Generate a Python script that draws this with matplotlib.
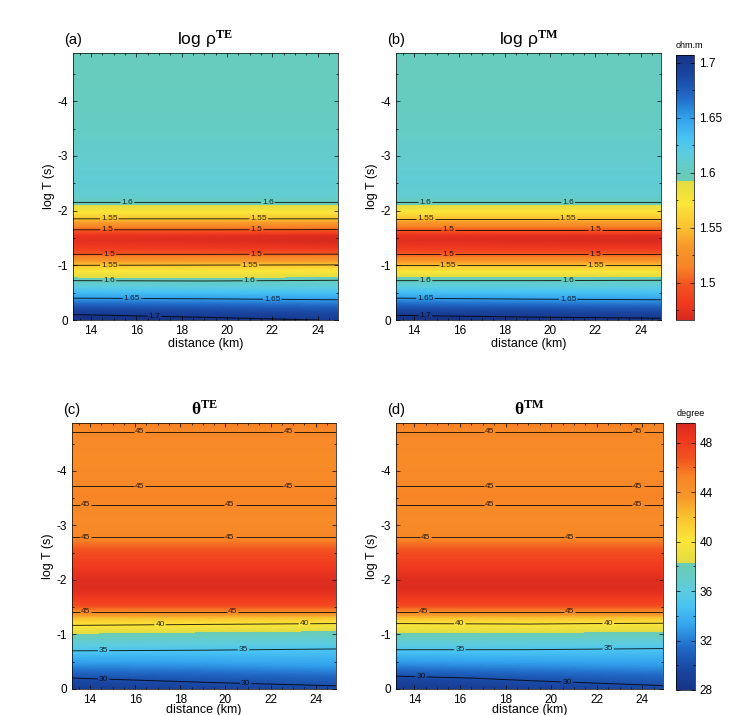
import numpy as np
import matplotlib
matplotlib.use("Agg")
import matplotlib.pyplot as plt
from matplotlib.colors import LinearSegmentedColormap, Normalize
from matplotlib.cm import ScalarMappable
from matplotlib.ticker import MultipleLocator

plt.rcParams['font.family'] = ['Liberation Sans', 'DejaVu Sans']
plt.rcParams['axes.unicode_minus'] = False
plt.rcParams['mathtext.fontset'] = 'custom'
plt.rcParams['mathtext.rm'] = 'Liberation Serif:bold'
plt.rcParams['mathtext.it'] = 'Liberation Sans'
plt.rcParams['mathtext.bf'] = 'Liberation Serif:bold'

# ---- data ----
dist = [13.2, 19.0, 24.9]          # km, columns of the grid

# apparent resistivity, log10(ohm.m)
logT_rho = [0.0, -0.1, -0.2, -0.3, -0.4, -0.55, -0.72, -0.85, -1.0, -1.1, -1.2, -1.3, -1.45,
            -1.55, -1.65, -1.75, -1.85, -2.0, -2.15, -2.3, -2.6, -3.0, -3.5, -4.0, -4.5, -4.9]
rho_te_left = [1.716, 1.700, 1.686, 1.668, 1.650, 1.627, 1.600, 1.580, 1.550, 1.526, 1.500, 1.483, 1.473,
               1.476, 1.500, 1.524, 1.550, 1.575, 1.600, 1.610, 1.612, 1.608, 1.604, 1.602, 1.601, 1.601]
rho_te_mid = [1.706, 1.694, 1.682, 1.665, 1.648, 1.625, 1.599, 1.579, 1.551, 1.526, 1.500, 1.481, 1.470,
              1.473, 1.500, 1.524, 1.550, 1.575, 1.600, 1.610, 1.612, 1.608, 1.604, 1.602, 1.601, 1.601]
rho_te_right = [1.699, 1.690, 1.678, 1.662, 1.645, 1.623, 1.601, 1.580, 1.552, 1.527, 1.501, 1.479, 1.466,
                1.469, 1.499, 1.524, 1.550, 1.575, 1.600, 1.610, 1.612, 1.608, 1.604, 1.602, 1.601, 1.601]
rho_tm_left = [1.712, 1.698, 1.684, 1.667, 1.650, 1.626, 1.600, 1.580, 1.550, 1.526, 1.500, 1.482, 1.472,
               1.475, 1.500, 1.524, 1.550, 1.575, 1.600, 1.610, 1.612, 1.608, 1.604, 1.602, 1.601, 1.601]
rho_tm_mid = [1.706, 1.695, 1.682, 1.664, 1.647, 1.625, 1.600, 1.580, 1.550, 1.526, 1.500, 1.481, 1.469,
              1.472, 1.500, 1.524, 1.550, 1.575, 1.600, 1.610, 1.612, 1.608, 1.604, 1.602, 1.601, 1.601]
rho_tm_right = [1.704, 1.692, 1.679, 1.662, 1.645, 1.624, 1.601, 1.580, 1.550, 1.526, 1.500, 1.480, 1.467,
                1.470, 1.500, 1.524, 1.550, 1.575, 1.600, 1.610, 1.612, 1.608, 1.604, 1.602, 1.601, 1.601]

# phase, degree
logT_phs = [0.0, -0.2, -0.45, -0.7, -0.95, -1.05, -1.2, -1.3, -1.42, -1.55, -1.75, -1.9,
            -2.05, -2.3, -2.55, -2.78, -3.1, -3.38, -3.55, -3.72, -4.2, -4.72, -4.9]
phs_upper = [47.5, 48.8, 49.3, 49.0, 48.0, 46.8, 45.0, 44.6, 45.0, 45.3, 45.0, 44.6, 45.0, 45.4]
phs_te_left = [28.8, 30.0, 32.6, 35.0, 37.4, 38.6, 40.4, 42.0, 45.0] + phs_upper
phs_te_mid = [29.2, 30.5, 32.8, 34.9, 37.1, 38.3, 40.2, 41.8, 45.0] + phs_upper
phs_te_right = [29.6, 31.0, 33.2, 34.7, 36.9, 38.0, 40.0, 41.6, 45.0] + phs_upper
phs_tm_left = [28.5, 29.6, 32.4, 34.8, 37.3, 38.5, 40.0, 41.8, 45.0] + phs_upper
phs_tm_mid = [29.0, 30.3, 32.7, 34.8, 37.2, 38.4, 40.1, 41.7, 45.0] + phs_upper
phs_tm_right = [29.6, 30.9, 33.0, 34.6, 37.0, 38.2, 39.9, 41.6, 45.0] + phs_upper

rho_levels = [1.5, 1.55, 1.6, 1.65, 1.7]
phs_levels = [30, 35, 40, 45]
rho_cbar_ticks = [1.5, 1.55, 1.6, 1.65, 1.7]
phs_cbar_ticks = [28, 32, 36, 40, 44, 48]
rho_range = (1.466, 1.707)
phs_range = (28.0, 49.6)

# jet-like map with the green part cut out
cmap = LinearSegmentedColormap.from_list('cut_jet', [
    (0.00, (0.09, 0.20, 0.52)),
    (0.08, (0.10, 0.28, 0.64)),
    (0.16, (0.13, 0.42, 0.78)),
    (0.24, (0.20, 0.64, 0.93)),
    (0.31, (0.28, 0.76, 0.95)),
    (0.37, (0.36, 0.80, 0.88)),
    (0.43, (0.40, 0.80, 0.76)),
    (0.475, (0.42, 0.80, 0.70)),
    (0.4751, (0.88, 0.86, 0.26)),
    (0.56, (0.99, 0.90, 0.22)),
    (0.65, (0.98, 0.76, 0.19)),
    (0.72, (0.97, 0.60, 0.16)),
    (0.80, (0.97, 0.52, 0.15)),
    (0.87, (0.95, 0.32, 0.12)),
    (0.94, (0.94, 0.22, 0.12)),
    (1.00, (0.84, 0.16, 0.12)),
], N=512)
cmap_r = cmap.reversed()


def draw_panel(ax, yy, cols, levels, vrange, cm, fmt, labpos, title, tag, xpad):
    Z = np.column_stack(cols)
    ax.contourf(dist, yy, Z, levels=np.linspace(vrange[0], vrange[1], 241),
                cmap=cm, extend='both', antialiased=False)
    cs = ax.contour(dist, yy, Z, levels=levels, colors='k', linewidths=0.7, alpha=0.8)
    ax.clabel(cs, fmt=fmt, fontsize=6, inline=True, inline_spacing=1, manual=labpos)
    ax.set_xlim(13.2, 24.9)
    ax.set_ylim(0, -4.88)
    ax.set_xticks([14, 16, 18, 20, 22, 24])
    ax.set_yticks([0, -1, -2, -3, -4])
    ax.xaxis.set_minor_locator(MultipleLocator(0.5))
    ax.yaxis.set_minor_locator(MultipleLocator(0.5))
    ax.tick_params(which='both', direction='in', top=True, right=True, labelsize=8.5, width=0.5)
    ax.tick_params(which='major', length=3)
    ax.tick_params(which='minor', length=1.5)
    for s in ax.spines.values():
        s.set_linewidth(0.5)
    ax.set_xlabel('distance (km)', fontsize=9, labelpad=xpad)
    ax.set_ylabel('log T (s)', fontsize=9, labelpad=2)
    ax.set_title(title, fontsize=12.5, pad=6)
    ax.text(-0.035, 1.05, tag, transform=ax.transAxes, fontsize=10.5, ha='left', va='center')


def draw_cbar(cax, vrange, cm, ticks, fmt, unit):
    cb = fig.colorbar(ScalarMappable(Normalize(*vrange), cm), cax=cax)
    cb.set_ticks(ticks)
    cb.set_ticklabels([fmt % t for t in ticks])
    cb.ax.yaxis.set_minor_locator(MultipleLocator((ticks[1] - ticks[0]) / 2))
    cb.ax.tick_params(which='both', direction='in', left=True, right=True, labelsize=8.5, width=0.5)
    cb.ax.tick_params(which='major', length=3)
    cb.ax.tick_params(which='minor', length=1.5)
    cb.outline.set_linewidth(0.5)
    cax.text(0.75, 1.02, unit, transform=cax.transAxes, fontsize=6.5, ha='center', va='bottom')


fig = plt.figure(figsize=(7.34, 7.15), dpi=100)

ax_a = fig.add_axes([0.0995, 0.5524, 0.361, 0.3734])
ax_b = fig.add_axes([0.5395, 0.5524, 0.361, 0.3734])
ax_c = fig.add_axes([0.0981, 0.0364, 0.3597, 0.372])
ax_d = fig.add_axes([0.5395, 0.0364, 0.3638, 0.372])
cax1 = fig.add_axes([0.921, 0.5524, 0.0245, 0.3706])
cax2 = fig.add_axes([0.921, 0.035, 0.0259, 0.3734])

lab_rho_te = [(15.6, -2.15), (21.8, -2.15), (14.8, -1.85), (21.4, -1.85), (14.7, -1.65), (21.3, -1.65),
              (14.8, -1.2), (21.3, -1.2), (14.8, -1.0), (21.0, -1.0), (14.8, -0.72), (21.0, -0.72),
              (15.8, -0.4), (22.0, -0.37), (16.8, -0.07)]
lab_rho_tm = [(14.5, -2.15), (20.8, -2.15), (14.5, -1.85), (20.8, -1.85), (15.5, -1.65), (22.0, -1.65),
              (15.5, -1.2), (22.0, -1.2), (15.5, -1.0), (22.0, -1.0), (14.5, -0.72), (20.8, -0.72),
              (14.5, -0.4), (20.8, -0.37), (14.5, -0.08)]
lab_phs_te = [(16.2, -4.72), (22.8, -4.72), (16.2, -3.72), (22.8, -3.72), (13.8, -3.38), (20.2, -3.38),
              (13.8, -2.78), (20.2, -2.78), (13.8, -1.42), (20.3, -1.42), (17.1, -1.18), (23.5, -1.2),
              (14.6, -0.7), (20.8, -0.73), (14.6, -0.17), (20.9, -0.08)]
lab_phs_tm = [(17.3, -4.72), (23.8, -4.72), (17.3, -3.72), (23.8, -3.72), (17.3, -3.38), (23.8, -3.38),
              (14.5, -2.78), (20.8, -2.78), (14.4, -1.42), (20.8, -1.42), (16.0, -1.2), (22.5, -1.22),
              (16.0, -0.72), (22.5, -0.74), (14.3, -0.24), (20.7, -0.12)]

draw_panel(ax_a, logT_rho, [rho_te_left, rho_te_mid, rho_te_right], rho_levels, rho_range, cmap_r,
           '%g', lab_rho_te, r'log $\rho^{\mathrm{TE}}$', '(a)', 1)
draw_panel(ax_b, logT_rho, [rho_tm_left, rho_tm_mid, rho_tm_right], rho_levels, rho_range, cmap_r,
           '%g', lab_rho_tm, r'log $\rho^{\mathrm{TM}}$', '(b)', 1)
draw_panel(ax_c, logT_phs, [phs_te_left, phs_te_mid, phs_te_right], phs_levels, phs_range, cmap,
           '%d', lab_phs_te, r'$\mathrm{\theta}^{\mathrm{TE}}$', '(c)', -1)
draw_panel(ax_d, logT_phs, [phs_tm_left, phs_tm_mid, phs_tm_right], phs_levels, phs_range, cmap,
           '%d', lab_phs_tm, r'$\mathrm{\theta}^{\mathrm{TM}}$', '(d)', -1)

draw_cbar(cax1, rho_range, cmap_r, rho_cbar_ticks, '%g', 'ohm.m')
draw_cbar(cax2, phs_range, cmap, phs_cbar_ticks, '%d', 'degree')

fig.savefig('out.png', dpi=100)
